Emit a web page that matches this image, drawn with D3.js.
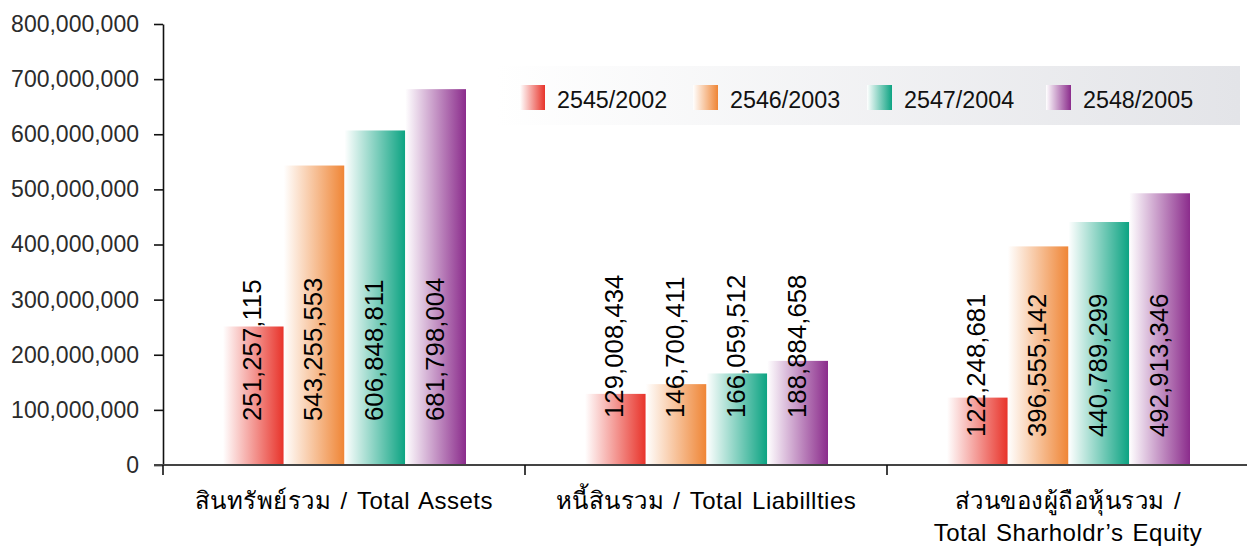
<!DOCTYPE html>
<html><head><meta charset="utf-8">
<script src="https://cdn.jsdelivr.net/npm/d3@7"></script>
<style>body{margin:0;background:#fff;overflow:hidden} svg{display:block}</style>
</head><body><svg id="c" width="1247" height="546"></svg>
<script>
// ---- data ----
const categories = ["assets", "liabilities", "equity"];
const categoryLabels = [
  ["สินทรัพย์รวม / Total Assets"],
  ["หนี้สินรวม / Total Liabillties"],
  ["ส่วนของผู้ถือหุ้นรวม /", "Total Sharholdr’s Equity"]
];
const seriesNames = ["2545/2002", "2546/2003", "2547/2004", "2548/2005"];
const values2545 = [251257115, 129008434, 122248681];
const values2546 = [543255553, 146700411, 396555142];
const values2547 = [606848811, 166059512, 440789299];
const values2548 = [681798004, 188884658, 492913346];
const seriesColors = ["#e8332a", "#ef8535", "#0ca382", "#8b2c8c"];
const yTicks = [0, 100000000, 200000000, 300000000, 400000000, 500000000, 600000000, 700000000, 800000000];

const series = [values2545, values2546, values2547, values2548];

// ---- layout ----
const svg = d3.select("#c");
const FONT = "'Liberation Sans', Arial, 'Noto Sans', sans-serif";
const left = 163, groupW = 362, y0 = 465, yTop = 24;

const x = d3.scaleBand().domain(categories).range([left, left + groupW * categories.length]).padding(0);
const x1 = d3.scaleBand().domain(seriesNames).range([60, groupW - 59]).padding(0);
const y = d3.scaleLinear().domain([0, 800000000]).range([y0, yTop]);

// gradients
const defs = svg.append("defs");
seriesColors.forEach((c, i) => {
  const g = defs.append("linearGradient").attr("id", "g" + i).attr("x1", "0%").attr("x2", "100%").attr("y1", "0%").attr("y2", "0%");
  g.append("stop").attr("offset", "0%").attr("stop-color", "#ffffff");
  g.append("stop").attr("offset", "100%").attr("stop-color", c);
});
const lg = defs.append("linearGradient").attr("id", "lg").attr("x1", "0%").attr("x2", "100%");
lg.append("stop").attr("offset", "0%").attr("stop-color", "#ffffff");
lg.append("stop").attr("offset", "100%").attr("stop-color", "#e3e4e8");

// legend
const legend = svg.append("g");
legend.append("rect").attr("x", 497).attr("y", 66).attr("width", 743).attr("height", 59).attr("fill", "url(#lg)");
const legendX = [520, 693, 867, 1046];
seriesNames.forEach((n, i) => {
  const lx = legendX[i];
  legend.append("rect").attr("x", lx).attr("y", 85).attr("width", 25).attr("height", 25).attr("fill", "url(#g" + i + ")");
  legend.append("text").attr("x", lx + 37).attr("y", 108).attr("font-family", FONT).attr("font-size", 23.3).attr("fill", "#111").text(n);
});

// bars
const labelBottom = [421, 418, 437];
categories.forEach((cat, ci) => {
  seriesNames.forEach((sn, si) => {
    const v = series[si][ci];
    const bx = x(cat) + x1(sn);
    svg.append("rect")
      .attr("x", bx).attr("y", y(v))
      .attr("width", x1.bandwidth()).attr("height", y(0) - y(v))
      .attr("fill", "url(#g" + si + ")");
  });
});
// value labels
categories.forEach((cat, ci) => {
  seriesNames.forEach((sn, si) => {
    const v = series[si][ci];
    const cx = x(cat) + x1(sn) + x1.bandwidth() / 2 + 8;
    svg.append("text")
      .attr("transform", `translate(${cx},${labelBottom[ci]}) rotate(-90)`)
      .attr("font-family", FONT).attr("font-size", 25.8).attr("fill", "#000")
      .attr("text-anchor", "start")
      .text(d3.format(",")(v));
  });
});

// y axis
const ya = svg.append("g").attr("transform", `translate(${left},0)`)
  .call(d3.axisLeft(y).tickValues(yTicks).tickFormat(d3.format(",")).tickSize(9).tickSizeOuter(0).tickPadding(15));
ya.selectAll("path").attr("stroke", "#111").attr("stroke-width", 1.6);
ya.selectAll("line").attr("stroke", "#111").attr("stroke-width", 1.6);
ya.selectAll("text").attr("font-family", FONT).attr("font-size", 23).attr("fill", "#2b2b2b");

// x axis line
svg.append("line").attr("x1", 154).attr("x2", 1247).attr("y1", y0).attr("y2", y0)
  .attr("stroke", "#444").attr("stroke-width", 2);
// separators
const bounds = categories.map(c => x(c)).concat([x.range()[1]]);
svg.selectAll(".sep").data(bounds).enter().append("line")
  .attr("x1", d => d).attr("x2", d => d).attr("y1", y0).attr("y2", y0 + 10)
  .attr("stroke", "#111").attr("stroke-width", 1.6);

// category labels
categories.forEach((cat, ci) => {
  const t = svg.append("text").attr("font-family", FONT).attr("font-size", 24).attr("fill", "#000")
    .attr("letter-spacing", 0.5).attr("word-spacing", 2)
    .attr("text-anchor", "middle");
  categoryLabels[ci].forEach((line, li) => {
    t.append("tspan").attr("x", x(cat) + x.bandwidth() / 2).attr("y", 509 + li * 32).text(line);
  });
});
</script></body></html>
